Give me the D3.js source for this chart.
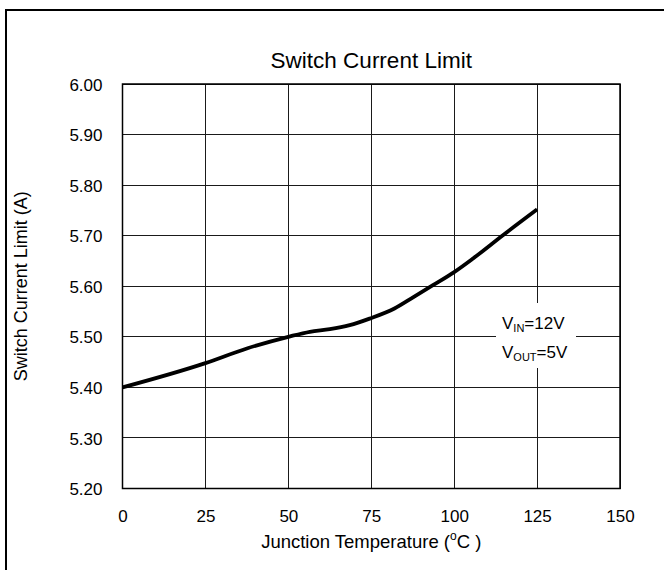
<!DOCTYPE html>
<html><head><meta charset="utf-8">
<script src="https://cdn.jsdelivr.net/npm/d3@7"></script>
<style>
html,body{margin:0;padding:0;background:#fff;}
svg{display:block;font-family:"Liberation Sans",Arial,sans-serif;}
</style></head>
<body>
<svg id="chart" width="664" height="570"></svg>
<script>
const temperatures = [0, 25, 37.5, 50, 56.5, 62.5, 68.5, 74.5, 82, 87.6, 93.6, 100, 105.7, 114.7, 125];
const currentLimit = [5.40, 5.448, 5.477, 5.50, 5.510, 5.515, 5.523, 5.536, 5.556, 5.578, 5.602, 5.628, 5.655, 5.701, 5.752];
const xTicks = [0, 25, 50, 75, 100, 125, 150];
const yTicks = [5.20, 5.30, 5.40, 5.50, 5.60, 5.70, 5.80, 5.90, 6.00];
const titleText = "Switch Current Limit";
const xLabel = "Junction Temperature (";
const yLabel = "Switch Current Limit (A)";

(function () {
const svg = d3.select("#chart");
const pL = 122.5, pR = 620, pT = 84, pB = 488.5;
const x = d3.scaleLinear().domain([0, 150]).range([pL, pR]);
const y = d3.scaleLinear().domain([5.2, 6.0]).range([pB, pT]);

// outer border (extends off-canvas right/bottom)
svg.append("rect").attr("x", 6).attr("y", 10).attr("width", 700).attr("height", 600)
  .attr("fill", "none").attr("stroke", "#000").attr("stroke-width", 2);

// grid
const g = svg.append("g");
g.selectAll("line.h").data(yTicks).join("line").attr("class", "h")
  .attr("x1", pL).attr("x2", pR)
  .attr("y1", d => y(d)).attr("y2", d => y(d))
  .attr("stroke", "#1a1a1a").attr("stroke-width", 1).attr("shape-rendering", "crispEdges");
g.selectAll("line.v").data(xTicks).join("line").attr("class", "v")
  .attr("y1", pT).attr("y2", pB)
  .attr("x1", d => x(d)).attr("x2", d => x(d))
  .attr("stroke", "#1a1a1a").attr("stroke-width", 1).attr("shape-rendering", "crispEdges");
// frame
svg.append("rect").attr("x", pL).attr("y", pT).attr("width", pR - pL).attr("height", pB - pT)
  .attr("fill", "none").attr("stroke", "#000").attr("stroke-width", 1.5);

// axes via d3 axis (labels only)
const xAxis = d3.axisBottom(x).tickValues(xTicks).tickFormat(d3.format("d")).tickSize(0).tickPadding(0);
const xa = svg.append("g").attr("transform", `translate(0,${pB})`).call(xAxis);
xa.select(".domain").remove();
xa.selectAll("text").attr("dy", null).attr("y", 33).attr("font-size", 17)
  .attr("font-family", "Liberation Sans, Arial, sans-serif").attr("fill", "#000");

const yAxis = d3.axisLeft(y).tickValues(yTicks).tickFormat(d3.format(".2f")).tickSize(0).tickPadding(20);
const ya = svg.append("g").attr("transform", `translate(${pL},0)`).call(yAxis);
ya.select(".domain").remove();
ya.selectAll("text").attr("font-size", 17).attr("dy", "0.36em")
  .attr("font-family", "Liberation Sans, Arial, sans-serif").attr("fill", "#000");

// annotation background
svg.append("rect").attr("x", 496).attr("y", 303).attr("width", 80).attr("height", 65).attr("fill", "#fff");

// curve
svg.append("path").datum(currentLimit)
  .attr("d", d3.line().x((d, i) => x(temperatures[i])).y(d => y(d)).curve(d3.curveMonotoneX))
  .attr("fill", "none").attr("stroke", "#000").attr("stroke-width", 3.8).attr("stroke-linejoin", "round");

// title
svg.append("text").attr("x", (pL + pR) / 2).attr("y", 68).attr("text-anchor", "middle")
  .attr("font-size", 22.5).text(titleText);

// x label
const xl = svg.append("text").attr("x", (pL + pR) / 2).attr("y", 548).attr("text-anchor", "middle").attr("font-size", 18.5);
xl.append("tspan").text(xLabel);
xl.append("tspan").attr("font-size", 12).attr("dy", -8).text("o");
xl.append("tspan").attr("dy", 8).text("C )");

// y label
svg.append("text").attr("transform", `translate(27,${(pT + pB) / 2}) rotate(-90)`)
  .attr("text-anchor", "middle").attr("font-size", 18).text(yLabel);

// annotation
const a1 = svg.append("text").attr("x", 502).attr("y", 329).attr("font-size", 17);
a1.append("tspan").text("V");
a1.append("tspan").attr("font-size", 11).attr("dy", 3).text("IN");
a1.append("tspan").attr("dy", -3).text("=12V");
const a2 = svg.append("text").attr("x", 502).attr("y", 358).attr("font-size", 17);
a2.append("tspan").text("V");
a2.append("tspan").attr("font-size", 11).attr("dy", 3).text("OUT");
a2.append("tspan").attr("dy", -3).text("=5V");
})();
</script>
</body></html>
